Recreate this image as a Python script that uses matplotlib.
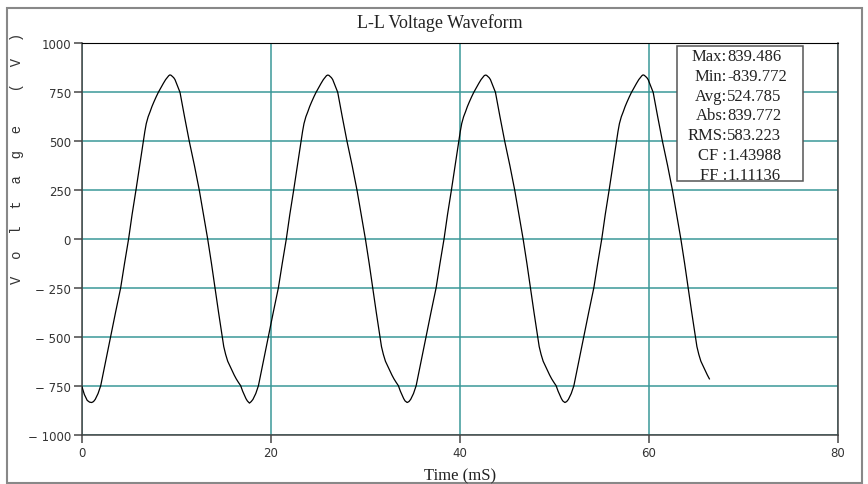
import matplotlib
matplotlib.use("Agg")
import matplotlib.pyplot as plt
from matplotlib.patches import Rectangle

# waveform samples (time in ms, volts), one cycle per row
time_ms = [
    0.00, 0.25, 0.55, 0.80,
    1.03, 1.22, 1.40, 1.70, 1.98, 2.50, 3.03, 3.55, 4.09, 4.50, 4.93, 5.30, 5.71, 6.10,
    6.49, 6.65, 6.80, 7.00, 7.20, 7.40, 7.60, 7.85, 8.08, 8.60, 8.85, 9.03, 9.18, 9.30,
    9.43, 9.55, 9.70, 9.84, 10.37, 10.85, 11.35, 11.90, 12.41, 12.85, 13.30, 13.70, 14.07,
    14.45, 14.85, 15.00, 15.20, 15.42, 15.66, 15.88, 16.10, 16.32, 16.54, 16.79, 17.00,
    17.20, 17.35, 17.50,
    17.72, 17.91, 18.09, 18.39, 18.67, 19.19, 19.72, 20.24, 20.78, 21.19, 21.62, 21.99,
    22.40, 22.79, 23.18, 23.34, 23.49, 23.69, 23.89, 24.09, 24.29, 24.54, 24.77, 25.29,
    25.54, 25.72, 25.87, 25.99, 26.12, 26.24, 26.39, 26.53, 27.06, 27.54, 28.04, 28.59,
    29.10, 29.54, 29.99, 30.39, 30.76, 31.14, 31.54, 31.69, 31.89, 32.11, 32.35, 32.57,
    32.79, 33.01, 33.23, 33.48, 33.69, 33.89, 34.04, 34.19,
    34.41, 34.60, 34.78, 35.08, 35.36, 35.88, 36.41, 36.93, 37.47, 37.88, 38.31, 38.68,
    39.09, 39.48, 39.87, 40.03, 40.18, 40.38, 40.58, 40.78, 40.98, 41.23, 41.46, 41.98,
    42.23, 42.41, 42.56, 42.68, 42.81, 42.93, 43.08, 43.22, 43.75, 44.23, 44.73, 45.28,
    45.79, 46.23, 46.68, 47.08, 47.45, 47.83, 48.23, 48.38, 48.58, 48.80, 49.04, 49.26,
    49.48, 49.70, 49.92, 50.17, 50.38, 50.58, 50.73, 50.88,
    51.10, 51.29, 51.47, 51.77, 52.05, 52.57, 53.10, 53.62, 54.16, 54.57, 55.00, 55.37,
    55.78, 56.17, 56.56, 56.72, 56.87, 57.07, 57.27, 57.47, 57.67, 57.92, 58.15, 58.67,
    58.92, 59.10, 59.25, 59.37, 59.50, 59.62, 59.77, 59.91, 60.44, 60.92, 61.42, 61.97,
    62.48, 62.92, 63.37, 63.77, 64.14, 64.52, 64.92, 65.07, 65.27, 65.49, 65.73, 65.95,
    66.17, 66.39,
]
volts = [
    -756, -795, -825, -834,
    -836, -831, -820, -790, -750, -625, -500, -375, -250, -125, 0, 125, 250, 375,
    500, 550, 590, 625, 650, 677, 700, 727, 750, 795, 815, 826, 835, 839,
    837, 832, 825, 815, 750, 625, 500, 375, 250, 125, 0, -125, -250,
    -375, -500, -550, -590, -625, -650, -673, -695, -715, -732, -750, -778,
    -800, -816, -828,
    -839, -831, -820, -790, -750, -625, -500, -375, -250, -125, 0, 125,
    250, 375, 500, 550, 590, 625, 650, 677, 700, 727, 750, 795,
    815, 826, 835, 838, 837, 832, 825, 815, 750, 625, 500, 375,
    250, 125, 0, -125, -250, -375, -500, -550, -590, -625, -650, -673,
    -695, -715, -732, -750, -778, -800, -816, -828,
    -836, -831, -820, -790, -750, -625, -500, -375, -250, -125, 0, 125,
    250, 375, 500, 550, 590, 625, 650, 677, 700, 727, 750, 795,
    815, 826, 835, 838, 837, 832, 825, 815, 750, 625, 500, 375,
    250, 125, 0, -125, -250, -375, -500, -550, -590, -625, -650, -673,
    -695, -715, -732, -750, -778, -800, -816, -828,
    -836, -831, -820, -790, -750, -625, -500, -375, -250, -125, 0, 125,
    250, 375, 500, 550, 590, 625, 650, 677, 700, 727, 750, 795,
    815, 826, 835, 839, 837, 832, 825, 815, 750, 625, 500, 375,
    250, 125, 0, -125, -250, -375, -500, -550, -590, -625, -650, -673,
    -695, -715,
]

x_ticks = [0, 20, 40, 60, 80]
y_ticks = [-1000, -750, -500, -250, 0, 250, 500, 750, 1000]

stat_names = ["Max", "Min", "Avg", "Abs", "RMS", "CF ", "FF "]
stat_values = ["839.486", "-839.772", "524.785", "839.772", "583.223", "1.43988", "1.11136"]

W, H = 868, 485
fig = plt.figure(figsize=(W / 100, H / 100), dpi=100)

# outer frame
fig.patches.append(Rectangle((7 / W, 1 - 484 / H), 855 / W, 475 / H,
                             transform=fig.transFigure, fill=False,
                             edgecolor="#888888", linewidth=1.5))

ax = fig.add_axes([82 / W, 1 - 435.6 / H, 756 / W, 391.2 / H])
ax.plot(time_ms, volts, color="black", linewidth=0.9, zorder=3)

ax.set_xlim(0, 80)
ax.set_ylim(-1000, 1000)
ax.set_xticks(x_ticks)
ax.set_yticks(y_ticks)
ax.set_yticklabels([str(v) if v >= 0 else "\u2212 " + str(-v) for v in y_ticks])
ax.tick_params(direction="out", length=6, width=1.2, color="#555555",
               labelsize=8.5, labelcolor="#333333", pad=2)
for t in ax.get_xticklabels() + ax.get_yticklabels():
    t.set_family("DejaVu Sans")

ax.grid(True, color="#3a9898", linewidth=1.1, zorder=1)
for s in ["left", "bottom", "right"]:
    ax.spines[s].set_color("#444444")
    ax.spines[s].set_linewidth(1.1)
ax.spines["top"].set_color("black")

fig.text(440 / W, 1 - 23 / H, "L-L Voltage Waveform", ha="center", va="center",
         family="Liberation Serif", fontsize=13, color="#222222")
fig.text(460 / W, 1 - 476 / H, "Time (mS)", ha="center", va="center",
         family="Liberation Serif", fontsize=12, color="#222222")
fig.text(17 / W, 1 - 158 / H, "V  o  l  t  a  g  e    (  V  )", rotation=90,
         ha="center", va="center", family="Liberation Mono", fontsize=10,
         color="#333333")

# stats box
fig.patches.append(Rectangle((677 / W, 1 - 182 / H), 126 / W, 135 / H,
                             transform=fig.transFigure, facecolor="white",
                             edgecolor="#555555", linewidth=1.1, zorder=5))
for i, (name, val) in enumerate(zip(stat_names, stat_values)):
    y = 1 - (57 + i * 19.8) / H
    fig.text(727 / W, y, name + ":", ha="right", va="center",
             family="Liberation Serif", fontsize=12, color="#222222", zorder=6)
    fig.text(727 / W, y, val, ha="left", va="center",
             family="Liberation Serif", fontsize=12, color="#222222", zorder=6)

fig.savefig("out.png", dpi=100)
